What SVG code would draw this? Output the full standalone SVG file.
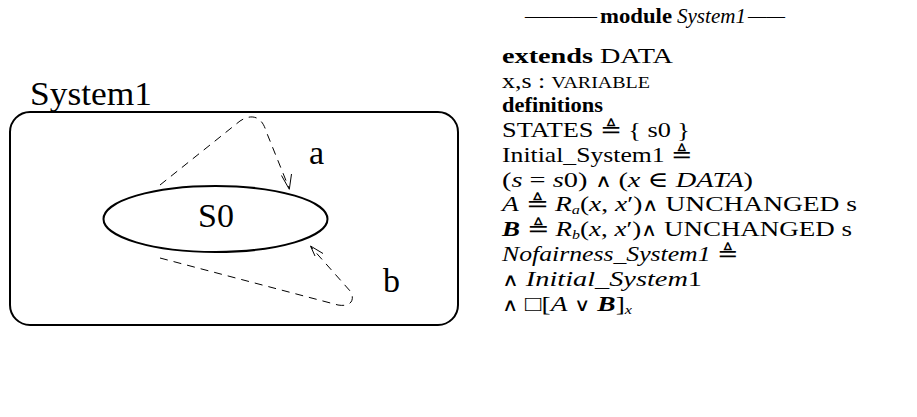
<svg xmlns="http://www.w3.org/2000/svg" width="917" height="417" viewBox="0 0 917 417">
<defs>
<style>
.lbl{font-family:"Liberation Serif","DejaVu Serif",serif;fill:#000}
.tx{font-family:"Liberation Serif","DejaVu Serif",serif;font-size:22px;fill:#000}
.b{font-weight:bold}
.i{font-style:italic}
.sub{font-style:italic;font-size:13px}
.op{font-family:"DejaVu Sans ExtraLight","DejaVu Sans",sans-serif;font-weight:200;font-size:18px}
.dash{fill:none;stroke:#000;stroke-width:1;stroke-dasharray:8 6}
.head{fill:none;stroke:#000;stroke-width:1}
</style>
</defs>
<rect width="917" height="417" fill="#fff"/>
<g id="System1">
<rect x="10" y="112" width="448" height="213" rx="20" ry="20" fill="none" stroke="#000" stroke-width="2"/>
<text class="lbl" x="30" y="105" font-size="34" textLength="122" lengthAdjust="spacingAndGlyphs">System1</text>
</g>
<g id="S0">
<ellipse cx="215.5" cy="219" rx="112" ry="33" fill="none" stroke="#000" stroke-width="2"/>
<text class="lbl" x="216" y="227" font-size="34" text-anchor="middle">S0</text>
</g>
<g id="connectors">
<path class="dash" d="M160,185 L240,121 C252,113 262,117 266,131 L289,188"/>
<path class="head" d="M281.5,175.5 L289.3,189.3 L291.5,174"/>
<text class="lbl" x="309" y="164" font-size="34">a</text>
<path class="dash" d="M160,258 L338,305 C350,307 355,301 351,292 L311,247"/>
<path class="head" d="M315,256 L310.5,246 L323,253.5"/>
<text class="lbl" x="383" y="292" font-size="34">b</text>
</g>
<g id="module">
<text class="tx" x="525" y="23" textLength="72" lengthAdjust="spacingAndGlyphs">———</text>
<text class="tx b" x="600" y="23" textLength="72" lengthAdjust="spacingAndGlyphs">module</text>
<text class="tx i" x="677" y="23" textLength="69" lengthAdjust="spacingAndGlyphs">System1</text>
<text class="tx" x="748" y="23" textLength="37" lengthAdjust="spacingAndGlyphs">——</text>
<text class="tx" x="502" y="63" textLength="171" lengthAdjust="spacingAndGlyphs"><tspan class="b">extends</tspan> DATA</text>
<text class="tx" x="502" y="88" textLength="148" lengthAdjust="spacingAndGlyphs">x,s : <tspan font-size="17">VARIABLE</tspan></text>
<text class="tx b" x="502" y="112" textLength="101" lengthAdjust="spacingAndGlyphs">definitions</text>
<text class="tx" x="502" y="137" textLength="188" lengthAdjust="spacingAndGlyphs">STATES ≜ { s0 }</text>
<text class="tx" x="502" y="162" textLength="190" lengthAdjust="spacingAndGlyphs">Initial_System1 ≜</text>
<text class="tx" x="502" y="187" textLength="251" lengthAdjust="spacingAndGlyphs">(<tspan class="i">s</tspan> = <tspan class="i">s</tspan>0) <tspan class="op">∧</tspan> (<tspan class="i">x</tspan> ∈ <tspan class="i">DATA</tspan>)</text>
<text class="tx" x="502" y="211" textLength="355" lengthAdjust="spacingAndGlyphs"><tspan class="i">A</tspan> ≜ <tspan class="i">R</tspan><tspan class="sub" dy="3">a</tspan><tspan dy="-3">(<tspan class="i">x</tspan>, <tspan class="i">x</tspan>′)<tspan class="op">∧</tspan> UNCHANGED s</tspan></text>
<text class="tx" x="502" y="236" textLength="350" lengthAdjust="spacingAndGlyphs"><tspan class="i b">B</tspan> ≜ <tspan class="i">R</tspan><tspan class="sub" dy="3">b</tspan><tspan dy="-3">(<tspan class="i">x</tspan>, <tspan class="i">x</tspan>′)<tspan class="op">∧</tspan> UNCHANGED s</tspan></text>
<text class="tx" x="502" y="261" textLength="236" lengthAdjust="spacingAndGlyphs"><tspan class="i">Nofairness_System1</tspan> ≜</text>
<text class="tx" x="502" y="286" textLength="200" lengthAdjust="spacingAndGlyphs"><tspan class="op">∧</tspan> <tspan class="i">Initial_System</tspan>1</text>
<text class="tx" x="502" y="311" textLength="130" lengthAdjust="spacingAndGlyphs"><tspan class="op">∧</tspan> □[<tspan class="i">A</tspan> <tspan class="op">∨</tspan> <tspan class="i b">B</tspan>]<tspan class="sub" dy="3">x</tspan></text>
</g>
</svg>
